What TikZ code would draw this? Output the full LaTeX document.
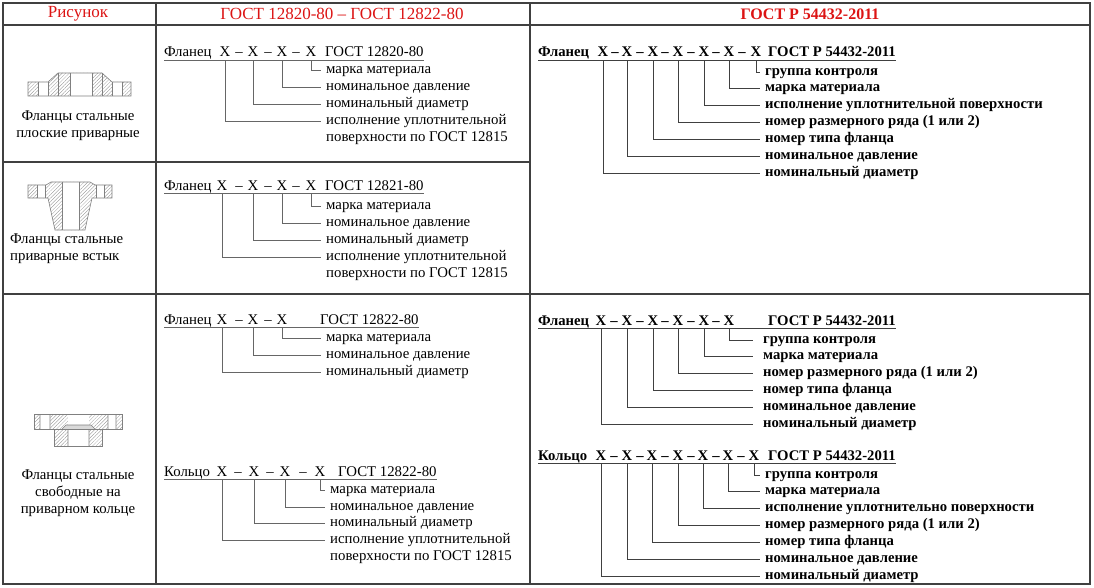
\documentclass[tikz,border=0pt]{standalone}
\usepackage{fontspec}
\setmainfont{Liberation Serif}
\usetikzlibrary{patterns.meta}
\definecolor{hdr}{RGB}{220,20,20}
\begin{document}
\begin{tikzpicture}[x=1pt,y=-1pt,
 t/.style={inner sep=0,font=\fontsize{14.8}{17}\selectfont,text height=10pt,text depth=3.5pt},
 tm/.style={inner sep=0,font=\fontsize{14.8}{17}\selectfont},
 tb/.style={t,font=\fontsize{14.7}{17}\selectfont\bfseries},
 xs/.style={t,anchor=base},
 xb/.style={tb,anchor=base},
 lab/.style={t,anchor=west},
 labb/.style={tb,anchor=west},
 c/.style={draw=black!60,line width=0.9pt},
 cb/.style={draw=black!75,line width=0.9pt},
 ul/.style={draw=black!60,line width=0.9pt},
 grid/.style={draw=black!75,line width=1.3pt},
 hat/.style={pattern={Lines[angle=45,distance=2.5pt,line width=0.3pt]},pattern color=black!45},
 sk/.style={draw=black!50,line width=0.6pt},
 hd/.style={inner sep=0,font=\fontsize{17}{19}\selectfont,text=hdr}]
\useasboundingbox (0,0) rectangle (1094,588);
% table
\draw[grid] (3,3) rectangle (1090,584);
\draw[grid] (3,25) -- (1090,25);
\draw[grid] (156,3) -- (156,584);
\draw[grid] (530,3) -- (530,584);
\draw[grid] (3,162) -- (530,162);
\draw[grid] (3,294) -- (1090,294);
\node[hd] (h1) at (78,14) {Рисунок};
\node[hd] (h2) at (342,14) {ГОСТ 12820-80 – ГОСТ 12822-80};
\node[hd,font=\fontsize{16}{19}\selectfont\bfseries] (h3) at (810,14) {ГОСТ Р 54432-2011};
% drawings
\fill[hat] (28,96) -- (28,82) -- (48,82) -- (58,73) -- (102,73) -- (112,82) -- (131,82) -- (131,96) -- cycle;
\fill[white] (70,73) rectangle (92,96) (38,82) rectangle (48,96) (112,82) rectangle (122,96);
\draw[sk] (28,96) -- (28,82) -- (48,82) -- (58,73) -- (102,73) -- (112,82) -- (131,82) -- (131,96) -- cycle;
\draw[sk] (70,73) -- (70,96) (92,73) -- (92,96) (38,82) -- (38,96) (48,82) -- (48,96) (112,82) -- (112,96) (122,82) -- (122,96) (58,73) -- (58,96) (102,73) -- (102,96);
\node[tm,align=center] (d1) at (78,126) {Фланцы стальные\\плоские приварные};
\fill[hat] (28,185) -- (46,185) -- (51,182) -- (90,182) -- (95,185) -- (112,185) -- (112,198) -- (92,198) -- (85,230) -- (55,230) -- (48,198) -- (28,198) -- cycle;
\fill[white] (62,182) rectangle (79,230) (37,185) rectangle (45,198) (96,185) rectangle (104,198);
\draw[sk] (28,185) -- (46,185) -- (51,182) -- (90,182) -- (95,185) -- (112,185) -- (112,198) -- (92,198) -- (85,230) -- (55,230) -- (48,198) -- (28,198) -- cycle;
\draw[sk] (62,182) -- (62,230) (79,182) -- (79,230) (37,185) -- (37,198) (45,185) -- (45,198) (96,185) -- (96,198) (104,185) -- (104,198);
\node[tm,align=left,anchor=west] (d2) at (10,249) {Фланцы стальные\\приварные встык};
\fill[hat] (34,414) rectangle (122,429) (54,429) rectangle (102,446);
\fill[white] (68,414) rectangle (89,446) (40,414) rectangle (50,429) (108,414) rectangle (116,429);
\fill[white!85!black] (62,429) -- (66,425) -- (91,425) -- (95,429) -- cycle;
\draw[sk] (34,414) rectangle (122,429) (54,429) rectangle (102,446);
\draw[sk] (68,429) -- (68,446) (89,429) -- (89,446) (40,414) -- (40,429) (50,414) -- (50,429) (108,414) -- (108,429) (116,414) -- (116,429) (62,429) -- (66,425) -- (91,425) -- (95,429);
\node[tm,align=center] (d3) at (78,493) {Фланцы стальные\\свободные на\\приварном кольце};
% ---------- R1
\node[t,anchor=base west] (a0) at (164,57) {Фланец};
\foreach \x [count=\i] in {225,253,282,311} \node[xs] (ax\i) at (\x,57) {X};
\foreach \x [count=\i] in {239,268,296} \node[xs] (ad\i) at (\x,57) {–};
\node[t,anchor=base west] (ag) at (325,57) {ГОСТ 12820-80};
\draw[ul] (a0.south west) -- (ag.south east);
\foreach \t/\y/\k [count=\i] in {марка материала/70/4,номинальное давление/87/3,номинальный диаметр/104/2,исполнение уплотнительной/121/1}
 {\node[lab] (al\i) at (326,\y) {\t}; \draw[c] (ax\k.south) |- ([xshift=-5pt]al\i.west);}
\node[lab] (al5) at (326,138) {поверхности по ГОСТ 12815};
% ---------- R2
\node[t,anchor=base west] (b0) at (164,190) {Фланец};
\foreach \x [count=\i] in {222,253,282,311} \node[xs] (bx\i) at (\x,190) {X};
\foreach \x [count=\i] in {239,268,296} \node[xs] (bd\i) at (\x,190) {–};
\node[t,anchor=base west] (bg) at (325,190) {ГОСТ 12821-80};
\draw[ul] (b0.south west) -- (bg.south east);
\foreach \t/\y/\k [count=\i] in {марка материала/206/4,номинальное давление/223/3,номинальный диаметр/240/2,исполнение уплотнительной/257/1}
 {\node[lab] (bl\i) at (326,\y) {\t}; \draw[c] (bx\k.south) |- ([xshift=-5pt]bl\i.west);}
\node[lab] (bl5) at (326,274) {поверхности по ГОСТ 12815};
% ---------- R3
\node[t,anchor=base west] (c0) at (164,324) {Фланец};
\foreach \x [count=\i] in {222,253,282} \node[xs] (cx\i) at (\x,324) {X};
\foreach \x [count=\i] in {239,268} \node[xs] (cd\i) at (\x,324) {–};
\node[t,anchor=base west] (cg) at (320,324) {ГОСТ 12822-80};
\draw[ul] (c0.south west) -- (cg.south east);
\foreach \t/\y/\k [count=\i] in {марка материала/338/3,номинальное давление/355/2,номинальный диаметр/372/1}
 {\node[lab] (cl\i) at (326,\y) {\t}; \draw[c] (cx\k.south) |- ([xshift=-5pt]cl\i.west);}
% ---------- R4
\node[t,anchor=base west] (e0) at (164,476) {Кольцо};
\foreach \x [count=\i] in {222,254,285,320} \node[xs] (ex\i) at (\x,476) {X};
\foreach \x [count=\i] in {238,270,303} \node[xs] (ed\i) at (\x,476) {–};
\node[t,anchor=base west] (eg) at (338,476) {ГОСТ 12822-80};
\draw[ul] (e0.south west) -- (eg.south east);
\foreach \t/\y/\k [count=\i] in {марка материала/490/4,номинальное давление/507/3,номинальный диаметр/523/2,исполнение уплотнительной/540/1}
 {\node[lab] (el\i) at (330,\y) {\t}; \draw[c] (ex\k.south) |- ([xshift=-5pt]el\i.west);}
\node[lab] (el5) at (330,557) {поверхности по ГОСТ 12815};
% ---------- RA
\node[tb,anchor=base west] (f0) at (538,57) {Фланец};
\foreach \x [count=\i] in {603,627,653,678,704,729,756} \node[xb] (fx\i) at (\x,57) {X};
\foreach \x [count=\i] in {615,640,665,691,716,742} \node[xb] (fd\i) at (\x,57) {–};
\node[tb,anchor=base west] (fg) at (768,57) {ГОСТ Р 54432-2011};
\draw[cb] (f0.south west) -- (fg.south east);
\foreach \t/\y/\k [count=\i] in {группа контроля/72/7,марка материала/88/6,исполнение уплотнительной поверхности/105/5,номер размерного ряда (1 или 2)/122/4,номер типа фланца/139/3,номинальное давление/156/2,номинальный диаметр/173/1}
 {\node[labb] (fl\i) at (765,\y) {\t}; \draw[cb] (fx\k.south) |- ([xshift=-5pt]fl\i.west);}
% ---------- RB
\node[tb,anchor=base west] (g0) at (538,325) {Фланец};
\foreach \x [count=\i] in {601,627,653,678,704,729} \node[xb] (gx\i) at (\x,325) {X};
\foreach \x [count=\i] in {614,640,665,691,716} \node[xb] (gd\i) at (\x,325) {–};
\node[tb,anchor=base west] (gg) at (768,325) {ГОСТ Р 54432-2011};
\draw[cb] (g0.south west) -- (gg.south east);
\foreach \t/\y/\k [count=\i] in {группа контроля/340/6,марка материала/356/5,номер размерного ряда (1 или 2)/373/4,номер типа фланца/390/3,номинальное  давление/407/2,номинальный диаметр/424/1}
 {\node[labb] (gl\i) at (763,\y) {\t}; \draw[cb] (gx\k.south) |- ([xshift=-10pt]gl\i.west);}
% ---------- RC
\node[tb,anchor=base west] (k0) at (538,460) {Кольцо};
\foreach \x [count=\i] in {601,627,652,678,703,728,754} \node[xb] (kx\i) at (\x,460) {X};
\foreach \x [count=\i] in {614,640,665,691,716,741} \node[xb] (kd\i) at (\x,460) {–};
\node[tb,anchor=base west] (kg) at (768,460) {ГОСТ Р 54432-2011};
\draw[cb] (k0.south west) -- (kg.south east);
\foreach \t/\y/\k [count=\i] in {группа контроля/475/7,марка материала/491/6,исполнение уплотнительно поверхности/508/5,номер размерного ряда (1 или 2)/525/4,номер типа фланца/542/3,номинальное давление/559/2,номинальный диаметр/576/1}
 {\node[labb] (kl\i) at (765,\y) {\t}; \draw[cb] (kx\k.south) |- ([xshift=-5pt]kl\i.west);}
\end{tikzpicture}
\end{document}
